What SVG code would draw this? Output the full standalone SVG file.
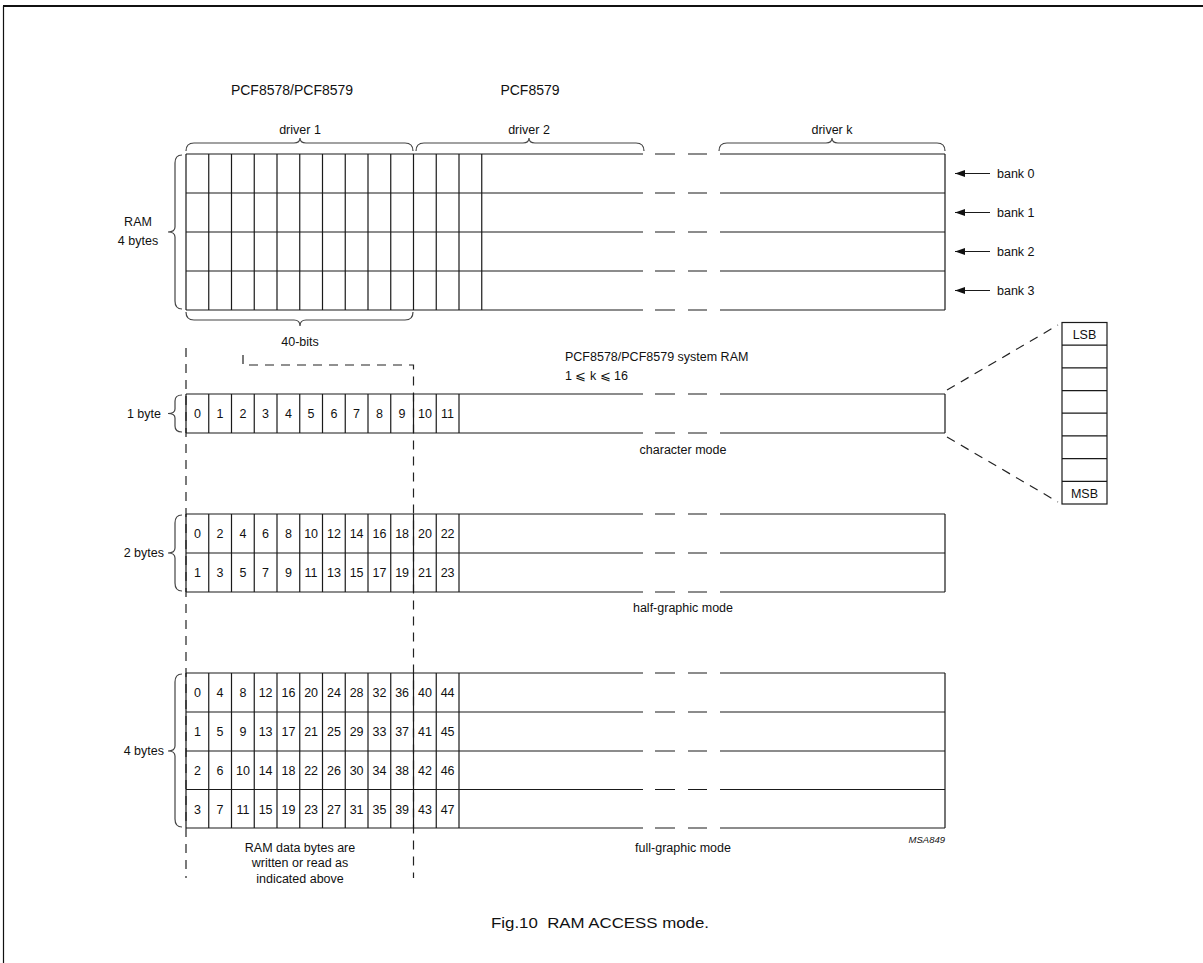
<svg xmlns="http://www.w3.org/2000/svg" width="1203" height="963" viewBox="0 0 1203 963">
<style>
text{font-family:"Liberation Sans",Arial,sans-serif;fill:#111;font-size:12.5px}
.c{text-anchor:middle}
.e{text-anchor:end}
.ln{stroke:#1a1a1a;stroke-width:1.2;fill:none}
.br{stroke:#444;stroke-width:1.2;fill:none}
.ds{stroke:#222;stroke-width:1.2;fill:none;stroke-dasharray:9 7}
.t14{font-size:14px}
.d{font-size:12.5px}
</style>
<defs>
<marker id="ah" markerWidth="11" markerHeight="8" refX="10" refY="4" orient="auto" markerUnits="userSpaceOnUse">
<path d="M0,0.5 L10,4 L0,7.5 Z" fill="#111"/>
</marker>
</defs>
<rect x="0" y="0" width="1203" height="963" fill="#fff"/>
<g id="frame">
<line x1="3" y1="6" x2="1203" y2="6" stroke="#111" stroke-width="2"/>
<line x1="3.5" y1="6" x2="3.5" y2="963" stroke="#111" stroke-width="1.2"/>
</g>
<g id="titles">
<text class="c t14" x="292" y="95">PCF8578/PCF8579</text>
<text class="c t14" x="530" y="95">PCF8579</text>
</g>
<g id="drivers">
<path class="br" d="M186,151 Q186,143 194,143 L294,143 Q300,143 300,138 Q300,143 306,143 L405,143 Q413,143 413,151"/>
<text class="c" x="300" y="134">driver 1</text>
<path class="br" d="M416,151 Q416,143 424,143 L523,143 Q529,143 529,138 Q529,143 535,143 L636,143 Q644,143 644,151"/>
<text class="c" x="529" y="134">driver 2</text>
<path class="br" d="M719,151 Q719,143 727,143 L826,143 Q832,143 832,138 Q832,143 838,143 L937,143 Q945,143 945,151"/>
<text class="c" x="832" y="134">driver k</text>
</g>
<g id="ram-grid">
<path class="ln" d="M186,154 H643 M655,154 H675 M688,154 H707 M720,154 H945
M186,193 H643 M655,193 H675 M688,193 H707 M720,193 H945
M186,232 H643 M655,232 H675 M688,232 H707 M720,232 H945
M186,271 H643 M655,271 H675 M688,271 H707 M720,271 H945
M186,310 H643 M655,310 H675 M688,310 H707 M720,310 H945
M186,154 V310 M945,154 V310
M208.75,154 V310 M231.5,154 V310 M254.25,154 V310 M277,154 V310 M299.75,154 V310 M322.5,154 V310 M345.25,154 V310 M368,154 V310 M390.75,154 V310 M413.5,154 V310 M436.25,154 V310 M459,154 V310 M481.75,154 V310"/>
<path class="br" d="M182,155 Q175,155 175,163 L175,227 Q175,232 168,232 Q175,232 175,237 L175,301 Q175,309 182,309"/>
<text class="c" x="138" y="226">RAM</text>
<text class="c" x="138" y="245">4 bytes</text>
<path class="br" d="M186,312 Q186,320 194,320 L294,320 Q300,320 300,326 Q300,320 306,320 L405,320 Q413,320 413,312"/>
<text class="c" x="300" y="346">40-bits</text>
<text x="565" y="361">PCF8578/PCF8579 system RAM</text>
<text x="565" y="380">1 ⩽ k ⩽ 16</text>
</g>
<g id="banks">
<line class="ln" x1="990" y1="173.5" x2="955" y2="173.5" marker-end="url(#ah)"/>
<line class="ln" x1="990" y1="212.5" x2="955" y2="212.5" marker-end="url(#ah)"/>
<line class="ln" x1="990" y1="251.5" x2="955" y2="251.5" marker-end="url(#ah)"/>
<line class="ln" x1="990" y1="290.5" x2="955" y2="290.5" marker-end="url(#ah)"/>
<text x="997" y="178">bank 0</text>
<text x="997" y="217">bank 1</text>
<text x="997" y="256">bank 2</text>
<text x="997" y="295">bank 3</text>
</g>
<g id="connectors">
<line class="ds" x1="186" y1="348" x2="186" y2="878"/>
<path class="ds" d="M243,355 V365 H413.5 V878"/>
<line class="ds" x1="947" y1="390" x2="1058" y2="325"/>
<line class="ds" x1="947" y1="437" x2="1058" y2="502"/>
</g>
<g id="character-mode">
<path class="ln" d="M186,394 H643 M655,394 H675 M688,394 H707 M720,394 H945
M186,433 H643 M655,433 H675 M688,433 H707 M720,433 H945
M186,394 V433 M945,394 V433
M208.75,394 V433 M231.5,394 V433 M254.25,394 V433 M277,394 V433 M299.75,394 V433 M322.5,394 V433 M345.25,394 V433 M368,394 V433 M390.75,394 V433 M413.5,394 V433 M436.25,394 V433 M459,394 V433"/>
<path class="br" d="M182,395 Q175,395 175,401 L175,409 Q175,413.5 168,413.5 Q175,413.5 175,418 L175,426 Q175,432 182,432"/>
<text class="e" x="161" y="418">1 byte</text>
<g class="d">
<text class="c" x="197.4" y="418">0</text><text class="c" x="220.1" y="418">1</text><text class="c" x="242.9" y="418">2</text><text class="c" x="265.6" y="418">3</text><text class="c" x="288.4" y="418">4</text><text class="c" x="311.1" y="418">5</text><text class="c" x="333.9" y="418">6</text><text class="c" x="356.6" y="418">7</text><text class="c" x="379.4" y="418">8</text><text class="c" x="402.1" y="418">9</text><text class="c" x="424.9" y="418">10</text><text class="c" x="447.6" y="418">11</text>
</g>
<text class="c" x="683" y="454">character mode</text>
</g>
<g id="bit-column">
<rect class="ln" x="1062" y="322.5" width="45" height="181.5"/>
<path class="ln" d="M1062,345.2 H1107 M1062,367.9 H1107 M1062,390.6 H1107 M1062,413.2 H1107 M1062,435.9 H1107 M1062,458.6 H1107 M1062,481.3 H1107"/>
<text class="c" x="1084.5" y="339">LSB</text>
<text class="c" x="1084.5" y="497.5">MSB</text>
</g>
<g id="half-graphic-mode">
<path class="ln" d="M186,514 H643 M655,514 H675 M688,514 H707 M720,514 H945
M186,553 H643 M655,553 H675 M688,553 H707 M720,553 H945
M186,592 H643 M655,592 H675 M688,592 H707 M720,592 H945
M186,514 V592 M945,514 V592
M208.75,514 V592 M231.5,514 V592 M254.25,514 V592 M277,514 V592 M299.75,514 V592 M322.5,514 V592 M345.25,514 V592 M368,514 V592 M390.75,514 V592 M413.5,514 V592 M436.25,514 V592 M459,514 V592"/>
<path class="br" d="M182,515 Q175,515 175,523 L175,548 Q175,553 168,553 Q175,553 175,558 L175,583 Q175,591 182,591"/>
<text class="e" x="164" y="557">2 bytes</text>
<g class="d">
<text class="c" x="197.4" y="538">0</text><text class="c" x="220.1" y="538">2</text><text class="c" x="242.9" y="538">4</text><text class="c" x="265.6" y="538">6</text><text class="c" x="288.4" y="538">8</text><text class="c" x="311.1" y="538">10</text><text class="c" x="333.9" y="538">12</text><text class="c" x="356.6" y="538">14</text><text class="c" x="379.4" y="538">16</text><text class="c" x="402.1" y="538">18</text><text class="c" x="424.9" y="538">20</text><text class="c" x="447.6" y="538">22</text>
<text class="c" x="197.4" y="577">1</text><text class="c" x="220.1" y="577">3</text><text class="c" x="242.9" y="577">5</text><text class="c" x="265.6" y="577">7</text><text class="c" x="288.4" y="577">9</text><text class="c" x="311.1" y="577">11</text><text class="c" x="333.9" y="577">13</text><text class="c" x="356.6" y="577">15</text><text class="c" x="379.4" y="577">17</text><text class="c" x="402.1" y="577">19</text><text class="c" x="424.9" y="577">21</text><text class="c" x="447.6" y="577">23</text>
</g>
<text class="c" x="683" y="612">half-graphic mode</text>
</g>
<g id="full-graphic-mode">
<path class="ln" d="M186,673 H643 M655,673 H675 M688,673 H707 M720,673 H945
M186,712 H643 M655,712 H675 M688,712 H707 M720,712 H945
M186,751 H643 M655,751 H675 M688,751 H707 M720,751 H945
M186,789.5 H643 M655,789.5 H675 M688,789.5 H707 M720,789.5 H945
M186,828 H643 M655,828 H675 M688,828 H707 M720,828 H945
M186,673 V828 M945,673 V828
M208.75,673 V828 M231.5,673 V828 M254.25,673 V828 M277,673 V828 M299.75,673 V828 M322.5,673 V828 M345.25,673 V828 M368,673 V828 M390.75,673 V828 M413.5,673 V828 M436.25,673 V828 M459,673 V828"/>
<path class="br" d="M182,674 Q175,674 175,682 L175,746 Q175,751 168,751 Q175,751 175,756 L175,819 Q175,827 182,827"/>
<text class="e" x="164" y="755">4 bytes</text>
<g class="d">
<text class="c" x="197.4" y="697">0</text><text class="c" x="220.1" y="697">4</text><text class="c" x="242.9" y="697">8</text><text class="c" x="265.6" y="697">12</text><text class="c" x="288.4" y="697">16</text><text class="c" x="311.1" y="697">20</text><text class="c" x="333.9" y="697">24</text><text class="c" x="356.6" y="697">28</text><text class="c" x="379.4" y="697">32</text><text class="c" x="402.1" y="697">36</text><text class="c" x="424.9" y="697">40</text><text class="c" x="447.6" y="697">44</text>
<text class="c" x="197.4" y="736">1</text><text class="c" x="220.1" y="736">5</text><text class="c" x="242.9" y="736">9</text><text class="c" x="265.6" y="736">13</text><text class="c" x="288.4" y="736">17</text><text class="c" x="311.1" y="736">21</text><text class="c" x="333.9" y="736">25</text><text class="c" x="356.6" y="736">29</text><text class="c" x="379.4" y="736">33</text><text class="c" x="402.1" y="736">37</text><text class="c" x="424.9" y="736">41</text><text class="c" x="447.6" y="736">45</text>
<text class="c" x="197.4" y="775">2</text><text class="c" x="220.1" y="775">6</text><text class="c" x="242.9" y="775">10</text><text class="c" x="265.6" y="775">14</text><text class="c" x="288.4" y="775">18</text><text class="c" x="311.1" y="775">22</text><text class="c" x="333.9" y="775">26</text><text class="c" x="356.6" y="775">30</text><text class="c" x="379.4" y="775">34</text><text class="c" x="402.1" y="775">38</text><text class="c" x="424.9" y="775">42</text><text class="c" x="447.6" y="775">46</text>
<text class="c" x="197.4" y="813.5">3</text><text class="c" x="220.1" y="813.5">7</text><text class="c" x="242.9" y="813.5">11</text><text class="c" x="265.6" y="813.5">15</text><text class="c" x="288.4" y="813.5">19</text><text class="c" x="311.1" y="813.5">23</text><text class="c" x="333.9" y="813.5">27</text><text class="c" x="356.6" y="813.5">31</text><text class="c" x="379.4" y="813.5">35</text><text class="c" x="402.1" y="813.5">39</text><text class="c" x="424.9" y="813.5">43</text><text class="c" x="447.6" y="813.5">47</text>
</g>
<text class="c" x="683" y="852">full-graphic mode</text>
<text class="e" x="945" y="843" style="font-size:9.5px;font-style:italic">MSA849</text>
</g>
<g id="note">
<text class="c" x="300" y="852">RAM data bytes are</text>
<text class="c" x="300" y="867">written or read as</text>
<text class="c" x="300" y="883">indicated above</text>
</g>
<g id="caption">
<text class="c" x="600" y="928" style="font-size:15px" textLength="218" lengthAdjust="spacingAndGlyphs">Fig.10&#160; RAM ACCESS mode.</text>
</g>
</svg>
